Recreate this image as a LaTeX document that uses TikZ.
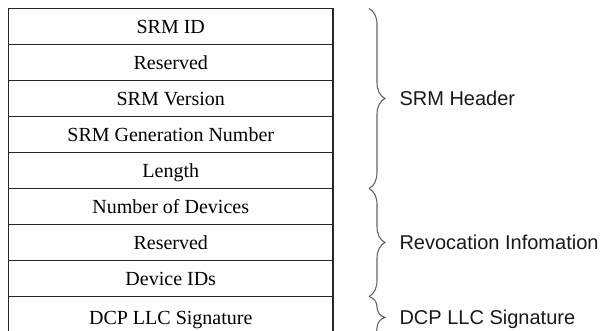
\documentclass[tikz,border=0pt]{standalone}
\usepackage{fontspec}
\setmainfont{Liberation Serif}
\newfontfamily\bracefont{Liberation Sans}
\usepackage{tikz}
\usetikzlibrary{positioning,decorations.pathreplacing}

\tikzset{
  field/.style={draw=black!85, line width=1.3pt, minimum width=324.5pt, minimum height=36pt,
    inner sep=0pt, outer sep=0pt, text height=18pt, text depth=4pt,
    font=\fontsize{20}{24}\selectfont},
  grp/.style={decorate, decoration={brace, amplitude=16pt}, draw=black!60, line width=1.1pt},
  grplabel/.style={anchor=west, inner sep=0pt, xshift=30pt, text height=14pt, text depth=0pt,
    font=\bracefont\fontsize{20}{24}\selectfont, text=black!90}
}

\begin{document}
\begin{tikzpicture}[x=1pt,y=-1pt]
  \useasboundingbox (0,0) rectangle (608,330);

  % the SRM fields, top to bottom
  \node[field] (id) at (170.75,26.5) {SRM ID};
  \node[field, below=0pt of id] (res1) {Reserved};
  \node[field, below=0pt of res1] (ver) {SRM Version};
  \node[field, below=0pt of ver] (gen) {SRM Generation Number};
  \node[field, below=0pt of gen] (len) {Length};
  \node[field, below=0pt of len] (num) {Number of Devices};
  \node[field, below=0pt of num] (res2) {Reserved};
  \node[field, below=0pt of res2] (dev) {Device IDs};
  \node[field, below=0pt of dev, minimum height=42pt] (sig) {DCP LLC Signature};

  % brace ends
  \coordinate[right=36pt of id.north east] (hd1);
  \coordinate[right=36pt of len.south east] (hd2);
  \coordinate[right=36pt of dev.south east] (hd3);
  \coordinate[right=36pt of sig.south east] (hd4);

  \draw[grp] (hd1) -- node[grplabel] {SRM Header} (hd2);
  \draw[grp] (hd2) -- node[grplabel] {Revocation Infomation} (hd3);
  \draw[grp] (hd3) -- node[grplabel] {DCP LLC Signature} (hd4);
\end{tikzpicture}
\end{document}
